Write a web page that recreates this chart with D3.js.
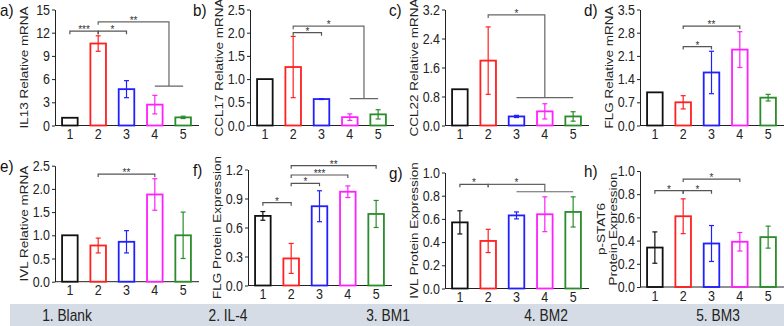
<!DOCTYPE html>
<html>
<head>
<meta charset="utf-8">
<script src="https://cdn.jsdelivr.net/npm/d3@7"></script>
<style>
  body { margin: 0; background: #fff; }
  svg { display: block; }
</style>
</head>
<body>
<div id="chart"></div>
<script>
const groups = ['1', '2', '3', '4', '5']
const groupNames = ['1. Blank', '2. IL-4', '3. BM1', '4. BM2', '5. BM3']
const groupColors = ['#111111', '#ff2020', '#2020ff', '#ff20ff', '#2a8c2a']

// a) IL13 mRNA
const il13Mean = [1.0, 10.6, 4.7, 2.7, 1.05]
const il13Err = [0, 1.0, 1.1, 1.2, 0.15]
const il13Ticks = [0, 3, 6, 9, 12, 15]
const il13Sig = [
  { from: 1, to: 2, at: 12.2, label: '***' },
  { from: 2, to: 3, at: 12.2, label: '*' },
  { from: 2, to: [4, 5], at: 13.4, low: 5.1, label: '**' },
]

// b) CCL17 mRNA
const ccl17Mean = [1.0, 1.26, 0.57, 0.18, 0.24]
const ccl17Err = [0, 0.66, 0.01, 0.07, 0.1]
const ccl17Ticks = [0, 0.5, 1.0, 1.5, 2.0, 2.5]
const ccl17Sig = [
  { from: 2, to: 3, at: 2.0, label: '*' },
  { from: 2, to: [4, 5], at: 2.14, low: 0.58, label: '*' },
]

// c) CCL22 mRNA
const ccl22Mean = [1.0, 1.79, 0.25, 0.39, 0.25]
const ccl22Err = [0, 0.93, 0.03, 0.21, 0.13]
const ccl22Ticks = [0, 0.8, 1.6, 2.4, 3.2]
const ccl22Sig = [
  { from: 2, to: [3, 4, 5], at: 3.05, low: 0.77, label: '*' },
]

// d) FLG mRNA
const flgMean = [1.0, 0.7, 1.6, 2.29, 0.84]
const flgErr = [0, 0.2, 0.64, 0.54, 0.1]
const flgTicks = [0, 0.7, 1.4, 2.1, 2.8, 3.5]
const flgSig = [
  { from: 2, to: 3, at: 2.38, label: '*' },
  { from: 2, to: 4, at: 3.0, label: '**' },
]

// e) IVL mRNA
const ivlMean = [1.0, 0.78, 0.86, 1.88, 1.0]
const ivlErr = [0, 0.16, 0.24, 0.34, 0.5]
const ivlTicks = [0, 0.5, 1.0, 1.5, 2.0, 2.5]
const ivlSig = [
  { from: 2, to: 4, at: 2.32, label: '**' },
]

// f) FLG protein
const flgProtMean = [0.72, 0.28, 0.82, 0.97, 0.74]
const flgProtErr = [0.045, 0.155, 0.16, 0.06, 0.14]
const flgProtTicks = [0, 0.3, 0.6, 0.9, 1.2]
const flgProtSig = [
  { from: 1, to: 2, at: 0.857, label: '*' },
  { from: 2, to: 3, at: 1.057, label: '*' },
  { from: 2, to: 4, at: 1.143, label: '***' },
  { from: 2, to: 5, at: 1.24, label: '**' },
]

// g) IVL protein
const ivlProtMean = [0.57, 0.41, 0.63, 0.64, 0.66]
const ivlProtErr = [0.1, 0.1, 0.03, 0.15, 0.13]
const ivlProtTicks = [0, 0.2, 0.4, 0.6, 0.8, 1.0]
const ivlProtSig = [
  { from: 1, to: 2, at: 0.898, label: '*' },
  { from: 2, to: [3, 4, 5], at: 0.898, low: 0.834, label: '*' },
]

// h) p-STAT6 protein
const stat6Mean = [0.34, 0.61, 0.375, 0.39, 0.43]
const stat6Err = [0.135, 0.15, 0.155, 0.08, 0.095]
const stat6Ticks = [0, 0.2, 0.4, 0.6, 0.8, 1.0]
const stat6Sig = [
  { from: 1, to: 2, at: 0.83, label: '*' },
  { from: 2, to: 3, at: 0.83, label: '*' },
  { from: 2, to: 4, at: 0.93, label: '*' },
]

const fmtInt = d3.format('d')
const fmt1 = d3.format('.1f')

const panels = [
  { tag: 'a)', title: ['IL13 Relative mRNA'], mean: il13Mean, err: il13Err, ticks: il13Ticks, fmt: fmtInt, sig: il13Sig, x: 55, y0: 125.5, lx: 0 },
  { tag: 'b)', title: ['CCL17 Relative mRNA'], mean: ccl17Mean, err: ccl17Err, ticks: ccl17Ticks, fmt: fmt1, sig: ccl17Sig, x: 250, y0: 125.5, lx: 193 },
  { tag: 'c)', title: ['CCL22 Relative mRNA'], mean: ccl22Mean, err: ccl22Err, ticks: ccl22Ticks, fmt: fmt1, sig: ccl22Sig, x: 445, y0: 125.5, lx: 389 },
  { tag: 'd)', title: ['FLG Relative mRNA'], mean: flgMean, err: flgErr, ticks: flgTicks, fmt: fmt1, sig: flgSig, x: 640, y0: 125.5, lx: 584 },
  { tag: 'e)', title: ['IVL Relative mRNA'], mean: ivlMean, err: ivlErr, ticks: ivlTicks, fmt: fmt1, sig: ivlSig, x: 55, y0: 281.7, lx: 0 },
  { tag: 'f)', title: ['FLG Protein Expression'], mean: flgProtMean, err: flgProtErr, ticks: flgProtTicks, fmt: fmt1, sig: flgProtSig, x: 248, y0: 285.5, lx: 193 },
  { tag: 'g)', title: ['IVL Protein Expression'], mean: ivlProtMean, err: ivlProtErr, ticks: ivlProtTicks, fmt: fmt1, sig: ivlProtSig, x: 445, y0: 288.5, lx: 389 },
  { tag: 'h)', title: ['p-STAT6', 'Protein Expression'], mean: stat6Mean, err: stat6Err, ticks: stat6Ticks, fmt: fmt1, sig: stat6Sig, x: 640, y0: 287, lx: 584 },
]

const width = 784
const height = 326
const plotH = 116
const plotW = 144
const squeeze = 0.86 // the source art has tall, narrow lettering
const font = '"Liberation Sans", Arial, sans-serif'

const svg = d3.select('#chart')
  .append('svg')
  .attr('width', width)
  .attr('height', height)
  .attr('viewBox', [0, 0, width, height])
  .attr('font-family', font)

const x = d3.scaleBand()
  .domain(groups)
  .range([0, 143])
  .paddingInner(0.45)
  .paddingOuter(0.25)

panels.forEach((p) => {
  const g = svg.append('g').attr('transform', `translate(${p.x},${p.y0 - plotH})`)
  const yMax = p.ticks[p.ticks.length - 1]
  const y = d3.scaleLinear().domain([0, yMax]).range([plotH, 0])

  // panel tag
  svg.append('text')
    .attr('transform', `translate(${p.lx},${p.y0 - plotH + 6}) scale(0.95,1)`)
    .attr('font-family', font)
    .attr('font-size', 16)
    .attr('fill', '#111')
    .text(p.tag)

  // y axis
  const yAxis = g.append('g')
    .call(d3.axisLeft(y).tickValues(p.ticks).tickFormat(p.fmt).tickSize(3).tickSizeOuter(0).tickPadding(2))
    .attr('font-family', font)
  yAxis.selectAll('text')
    .attr('font-family', font)
    .attr('font-size', 14.5)
    .attr('fill', '#222')
    .attr('x', -5 / squeeze)
    .attr('transform', `scale(${squeeze},1)`)
  yAxis.selectAll('line, path').attr('stroke', '#222')

  // x axis
  const xAxis = g.append('g')
    .attr('transform', `translate(0,${plotH})`)
    .call(d3.axisBottom(x).tickSize(0).tickPadding(3.5))
    .attr('font-family', font)
  xAxis.select('.domain').attr('d', `M0,0H${plotW}`).attr('stroke', '#222')
  xAxis.selectAll('text')
    .attr('font-family', font)
    .attr('font-size', 14.5)
    .attr('fill', '#222')
    .attr('transform', `scale(${squeeze},1)`)

  // y title (rotated, so the squeeze acts across the line)
  const nLines = p.title.length
  p.title.forEach((t, k) => {
    const off = nLines === 1 ? -31 : -39 + k * 12
    g.append('text')
      .attr('transform', `translate(${off},${plotH / 2}) scale(${squeeze},1) rotate(-90)`)
      .attr('text-anchor', 'middle')
      .attr('dy', '0.35em')
      .attr('font-family', font)
      .attr('font-size', nLines === 1 ? 13.5 : 13.5)
      .attr('fill', '#222')
      .text(t)
  })

  const rows = groups.map((k, j) => ({ key: k, mean: p.mean[j], err: p.err[j], color: groupColors[j] }))

  // bars
  g.selectAll('rect.bar')
    .data(rows)
    .join('rect')
    .attr('class', 'bar')
    .attr('x', (d) => x(d.key))
    .attr('y', (d) => y(d.mean))
    .attr('width', x.bandwidth())
    .attr('height', (d) => plotH - y(d.mean))
    .attr('fill', 'none')
    .attr('stroke', (d) => d.color)
    .attr('stroke-width', 1.8)

  // error bars
  const eb = g.selectAll('g.err')
    .data(rows.filter((d) => d.err > 0))
    .join('g')
    .attr('class', 'err')
    .attr('stroke', (d) => d.color)
    .attr('stroke-width', 1.2)
  const cx = (d) => x(d.key) + x.bandwidth() / 2
  eb.append('line')
    .attr('x1', cx).attr('x2', cx)
    .attr('y1', (d) => y(d.mean + d.err))
    .attr('y2', (d) => y(d.mean - d.err))
  eb.append('line')
    .attr('x1', (d) => cx(d) - 2.5).attr('x2', (d) => cx(d) + 2.5)
    .attr('y1', (d) => y(d.mean + d.err)).attr('y2', (d) => y(d.mean + d.err))
  eb.append('line')
    .attr('x1', (d) => cx(d) - 2.5).attr('x2', (d) => cx(d) + 2.5)
    .attr('y1', (d) => y(d.mean - d.err)).attr('y2', (d) => y(d.mean - d.err))

  // significance brackets
  const center = (k) => x(String(k)) + x.bandwidth() / 2
  p.sig.forEach((s) => {
    const yy = y(s.at)
    const x1 = center(s.from)
    let x2
    if (Array.isArray(s.to)) {
      const first = center(s.to[0])
      const last = center(s.to[s.to.length - 1])
      x2 = (first + last) / 2
      const yl = y(s.low)
      g.append('path')
        .attr('d', `M${x1},${yy + 3}V${yy}H${x2}V${yl}M${first},${yl}H${last}`)
        .attr('fill', 'none')
        .attr('stroke', '#666')
        .attr('stroke-width', 1.2)
    } else {
      x2 = center(s.to)
      g.append('path')
        .attr('d', `M${x1},${yy + 3}V${yy}H${x2}V${yy + 3}`)
        .attr('fill', 'none')
        .attr('stroke', '#555')
        .attr('stroke-width', 1.2)
    }
    g.append('text')
      .attr('x', (x1 + x2) / 2)
      .attr('y', yy + 2)
      .attr('text-anchor', 'middle')
      .attr('font-family', font)
      .attr('font-size', 10)
      .attr('fill', '#333')
      .text(s.label)
  })
})

// legend band
svg.append('rect')
  .attr('x', 10)
  .attr('y', 304)
  .attr('width', width - 10)
  .attr('height', 22)
  .attr('fill', '#d6dce5')

const legendPos = [67, 228, 388, 546, 718]
svg.selectAll('text.legend')
  .data(groupNames)
  .join('text')
  .attr('class', 'legend')
  .attr('transform', (d, i) => `translate(${legendPos[i]},321) scale(${squeeze},1)`)
  .attr('text-anchor', 'middle')
  .attr('font-family', font)
  .attr('font-size', 16)
  .attr('fill', '#222')
  .text((d) => d)
</script>
</body>
</html>
